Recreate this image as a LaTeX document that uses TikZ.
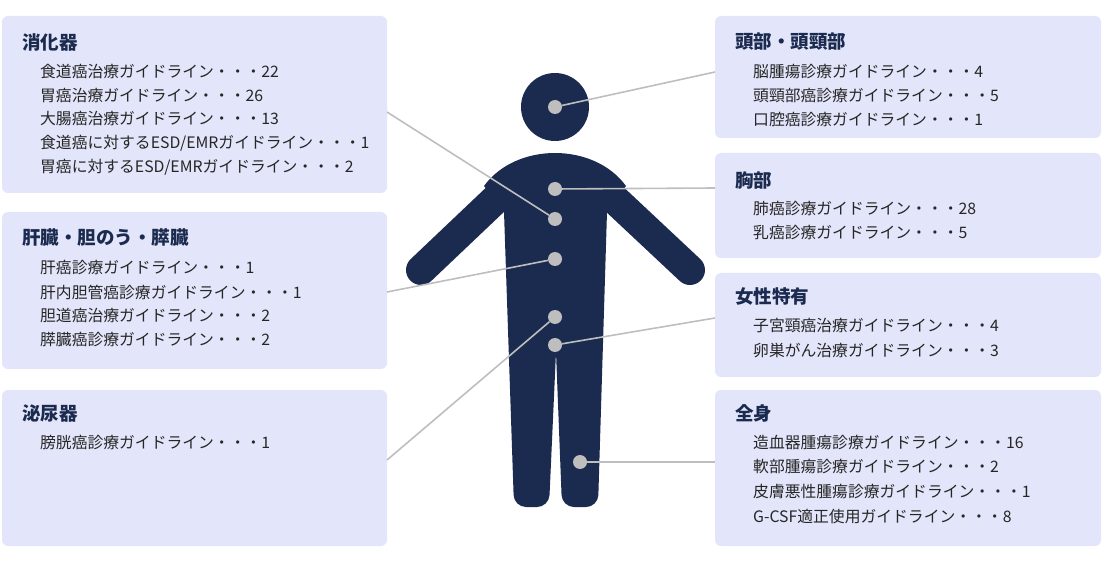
\documentclass[tikz,border=0pt]{standalone}
\usepackage{fontspec}
\setmainfont{Noto Sans CJK JP}
\usepackage{tikz}
\definecolor{Navy}{HTML}{1B2A4F}
\definecolor{Panel}{HTML}{E3E6FA}
\definecolor{Dot}{HTML}{BEBEBE}
\tikzstyle{panel}=[fill=Panel,draw=none,rounded corners=6pt]
\tikzstyle{title}=[anchor=west,inner sep=0pt,text=Navy,font=\fontsize{18.5}{22}\selectfont\bfseries]
\tikzstyle{item}=[anchor=west,inner sep=0pt,text=black!85,font=\fontsize{15.8}{19}\selectfont]
\tikzstyle{spot}=[circle,fill=Dot,minimum size=14pt,inner sep=0pt]
\tikzstyle{link}=[-,draw=Dot,line width=1.6pt]

\begin{document}
\begin{tikzpicture}[x=1pt,y=-1pt]
  \useasboundingbox (0,0) rectangle (1104,564);
  % panels
  \fill [style=panel] (2,16) rectangle (387,193);
  \fill [style=panel] (2,212) rectangle (387,369);
  \fill [style=panel] (2,390) rectangle (387,546);
  \fill [style=panel] (715,16) rectangle (1101,138);
  \fill [style=panel] (715,153) rectangle (1101,258);
  \fill [style=panel] (715,273) rectangle (1101,377);
  \fill [style=panel] (715,390) rectangle (1101,546);
  % left texts
  \node [style=title] (digest) at (22,42) {消化器};
  \node [style=item] (d1) at (40,71) {食道癌治療ガイドライン・・・22};
  \node [style=item] (d2) at (40,95) {胃癌治療ガイドライン・・・26};
  \node [style=item] (d3) at (40,119) {大腸癌治療ガイドライン・・・13};
  \node [style=item] (d4) at (40,143) {食道癌に対するESD/EMRガイドライン・・・1};
  \node [style=item] (d5) at (40,167) {胃癌に対するESD/EMRガイドライン・・・2};
  \node [style=title] (liver) at (22,238) {肝臓・胆のう・膵臓};
  \node [style=item] (l1) at (40,268) {肝癌診療ガイドライン・・・1};
  \node [style=item] (l2) at (40,292) {肝内胆管癌診療ガイドライン・・・1};
  \node [style=item] (l3) at (40,316) {胆道癌治療ガイドライン・・・2};
  \node [style=item] (l4) at (40,340) {膵臓癌診療ガイドライン・・・2};
  \node [style=title] (urin) at (22,414) {泌尿器};
  \node [style=item] (u1) at (40,443) {膀胱癌診療ガイドライン・・・1};
  % right texts
  \node [style=title] (head) at (735,42) {頭部・頭頸部};
  \node [style=item] (h1) at (753,72) {脳腫瘍診療ガイドライン・・・4};
  \node [style=item] (h2) at (753,96) {頭頸部癌診療ガイドライン・・・5};
  \node [style=item] (h3) at (753,120) {口腔癌診療ガイドライン・・・1};
  \node [style=title] (chest) at (735,180) {胸部};
  \node [style=item] (c1) at (753,209) {肺癌診療ガイドライン・・・28};
  \node [style=item] (c2) at (753,233) {乳癌診療ガイドライン・・・5};
  \node [style=title] (female) at (735,297) {女性特有};
  \node [style=item] (f1) at (753,326) {子宮頸癌治療ガイドライン・・・4};
  \node [style=item] (f2) at (753,350) {卵巣がん治療ガイドライン・・・3};
  \node [style=title] (whole) at (735,413) {全身};
  \node [style=item] (w1) at (753,443) {造血器腫瘍診療ガイドライン・・・16};
  \node [style=item] (w2) at (753,467) {軟部腫瘍診療ガイドライン・・・2};
  \node [style=item] (w3) at (753,492) {皮膚悪性腫瘍診療ガイドライン・・・1};
  \node [style=item] (w4) at (753,517) {G-CSF適正使用ガイドライン・・・8};
  % figure
  \fill [Navy] (555,107) circle (34);
  \draw [Navy,line width=30pt,line cap=round] (500,195) -- (421,270);
  \draw [Navy,line width=30pt,line cap=round] (610,195) -- (690,270);
  \fill [Navy] (484,186) .. controls (516,142) and (594,142) .. (626,186)
    -- (607,212) [rounded corners=12pt] -- (598,507) -- (562,507) [sharp corners] -- (556,352)
    [rounded corners=12pt] -- (549,507) -- (514,507) [sharp corners] -- (504,212) -- cycle;
  % dots
  \node [style=spot] (p0) at (555,107) {};
  \node [style=spot] (p1) at (555,189) {};
  \node [style=spot] (p2) at (555,219) {};
  \node [style=spot] (p3) at (555,259) {};
  \node [style=spot] (p4) at (555,317) {};
  \node [style=spot] (p5) at (555,345) {};
  \node [style=spot] (p6) at (580,462) {};
  % connector ends
  \coordinate (e0) at (715,72);
  \coordinate (e1) at (715,188);
  \coordinate (e2) at (387,112);
  \coordinate (e3) at (387,292);
  \coordinate (e4) at (387,460);
  \coordinate (e5) at (715,318);
  \coordinate (e6) at (715,462);
  \draw [style=link] (p0) to (e0);
  \draw [style=link] (p1) to (e1);
  \draw [style=link] (p2) to (e2);
  \draw [style=link] (p3) to (e3);
  \draw [style=link] (p4) to (e4);
  \draw [style=link] (p5) to (e5);
  \draw [style=link] (p6) to (e6);
\end{tikzpicture}
\end{document}
